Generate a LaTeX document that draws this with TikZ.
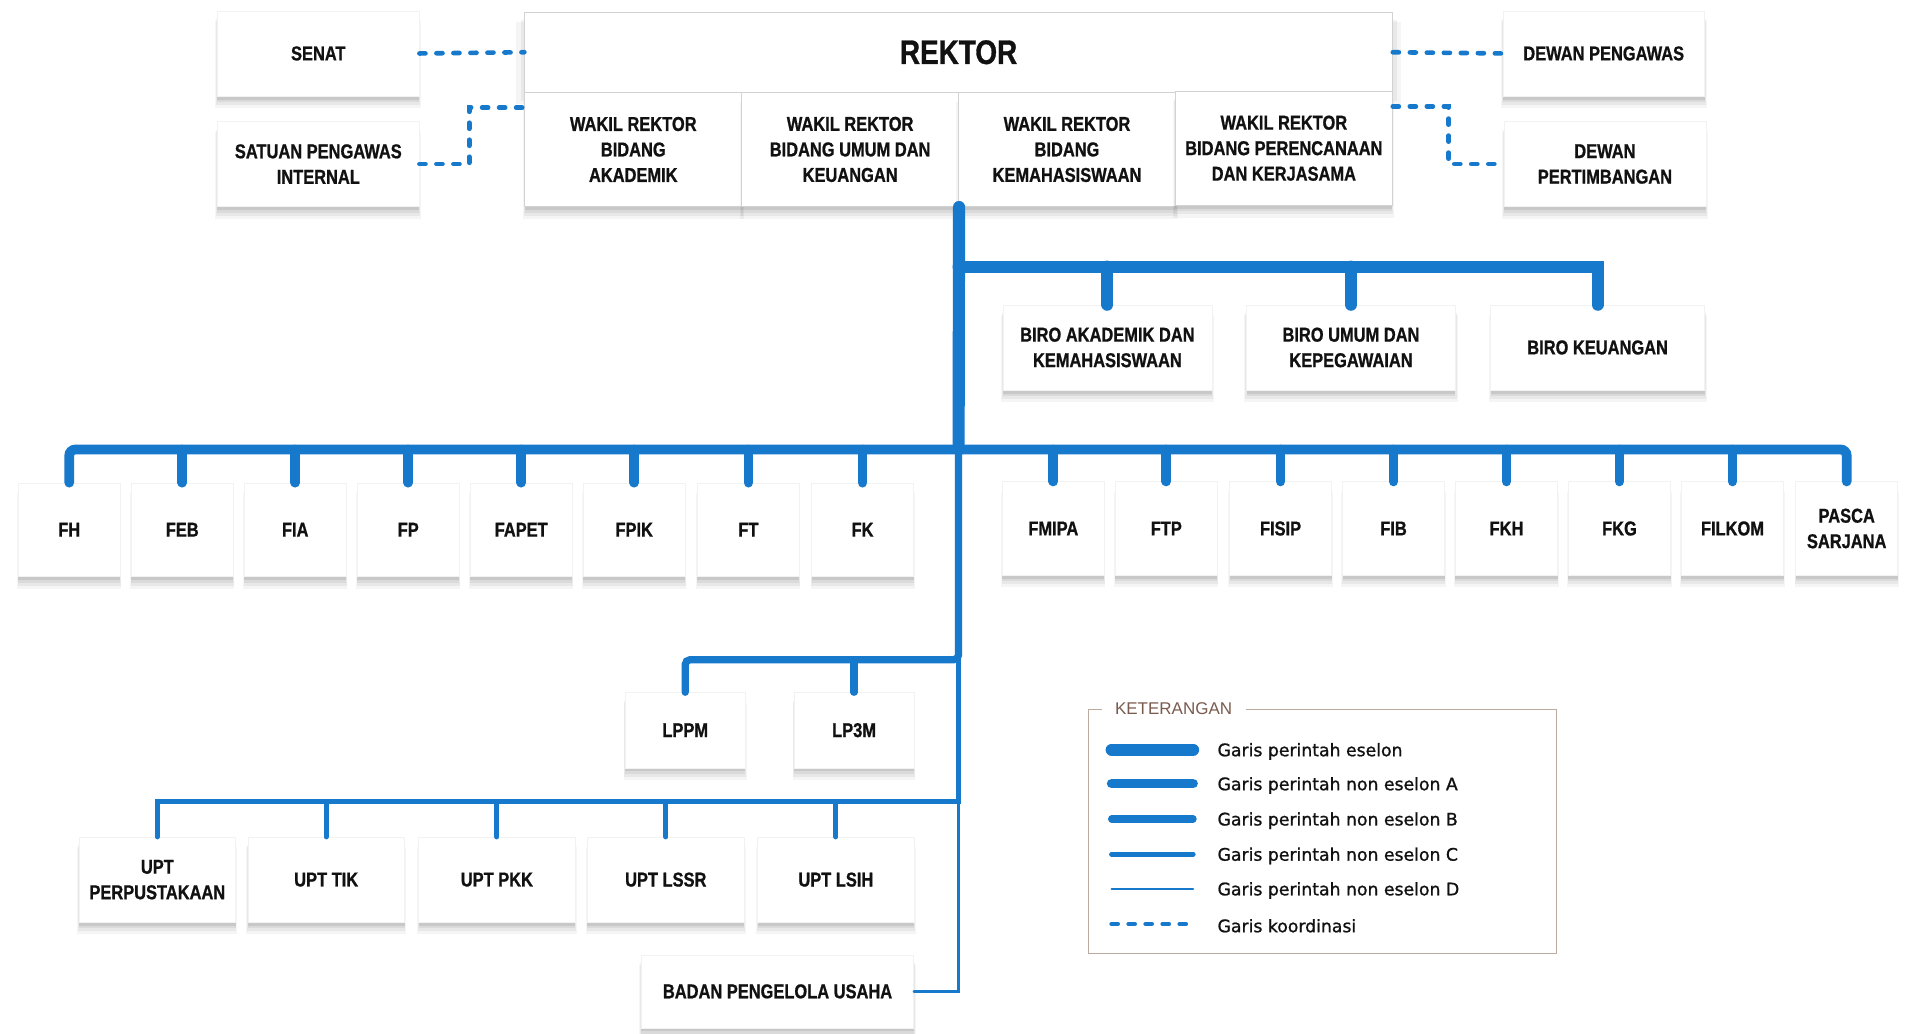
\documentclass[tikz,border=0pt]{standalone}
\usepackage{fontspec}
\usepackage{xcolor}
\usepackage{tikz}
\usetikzlibrary{shadows, positioning}

\newfontfamily\unitfont{Liberation Sans Bold}[FakeStretch=0.82, FakeBold=0.9]
\newfontfamily\notefont{DejaVu Sans}[FakeBold=1.1]
\newfontfamily\notetitlefont{Liberation Sans}

\definecolor{linkblue}{HTML}{1779CC}
\definecolor{unittext}{HTML}{111111}
\definecolor{notebrown}{HTML}{7B5B4E}
\definecolor{noteframe}{HTML}{BCA9A0}

\tikzset{
  unitbox/.style={
    draw=gray!10, fill=white, align=center, inner sep=2pt,
    text=unittext, font=\unitfont\fontsize{16.5}{21}\selectfont,
    drop shadow={shadow xshift=0pt, shadow yshift=-9pt, shadow scale=1.02, opacity=.04, fill=black},
    drop shadow={shadow xshift=0pt, shadow yshift=-7pt, shadow scale=1.01, opacity=.05, fill=black},
    drop shadow={shadow xshift=0pt, shadow yshift=-5pt, opacity=.06, fill=black},
    drop shadow={shadow xshift=0pt, shadow yshift=-3pt, opacity=.08, fill=black}
  },
  headbox/.style={
    unitbox, draw=gray!35, line width=0.8pt
  },
  wakilbox/.style={
    headbox, minimum width=178.5pt, minimum height=94pt
  },
  sidebox/.style={
    unitbox, minimum width=166pt, minimum height=70pt
  },
  birobox/.style={
    unitbox, minimum width=172pt, minimum height=70pt
  },
  fakbox/.style={
    unitbox, minimum width=84pt, minimum height=77pt
  },
  lpbox/.style={
    unitbox, minimum width=99pt, minimum height=62pt
  },
  uptbox/.style={
    unitbox, minimum width=129pt, minimum height=70pt
  },
  eselon/.style={draw=linkblue, line width=10pt, line cap=round},
  noneselonA/.style={draw=linkblue, line width=8pt, line cap=round},
  noneselonB/.style={draw=linkblue, line width=6pt, line cap=round},
  noneselonC/.style={draw=linkblue, line width=4.2pt, line cap=round},
  noneselonD/.style={draw=linkblue, line width=2pt, line cap=round},
  koordinasi/.style={
    draw=linkblue, line width=3.8pt, line cap=round,
    dash pattern=on 5pt off 9pt
  },
  notetitle/.style={
    fill=white, inner xsep=11pt, inner ysep=1pt, text=notebrown,
    font=\notetitlefont\fontsize{14}{16}\selectfont
  },
  notelabel/.style={
    anchor=west, inner sep=0pt, text=unittext,
    font=\notefont\fontsize{14.2}{16}\selectfont
  },
}

\begin{document}
\begin{tikzpicture}[x=1pt, y=-1pt]
  \fill[white] (0,0) rectangle (1568,851);
  \useasboundingbox (0,0) rectangle (1568,851);

  % Pimpinan
  \node[headbox, minimum width=714pt, minimum height=66pt,
    font=\unitfont\fontsize{28}{30}\selectfont] (rektor) at (789,43) {REKTOR};
  \node[wakilbox] (wr1) at (521.25,123) {WAKIL REKTOR\\BIDANG\\AKADEMIK};
  \node[wakilbox] (wr2) at (699.75,123) {WAKIL REKTOR\\BIDANG UMUM DAN\\KEUANGAN};
  \node[wakilbox] (wr3) at (878.25,123) {WAKIL REKTOR\\BIDANG\\KEMAHASISWAAN};
  \node[wakilbox] (wr4) at (1056.75,122) {WAKIL REKTOR\\BIDANG PERENCANAAN\\DAN KERJASAMA};

  % Organ pendamping
  \node[sidebox] (senat) at (262,44) {SENAT};
  \node[sidebox] (spi) at (262,135) {SATUAN PENGAWAS\\INTERNAL};
  \node[sidebox] (dpw) at (1320,44) {DEWAN PENGAWAS};
  \node[sidebox] (dpt) at (1321,135) {DEWAN\\PERTIMBANGAN};

  % Biro
  \node[birobox] (biroa) at (911.5,286) {BIRO AKADEMIK DAN\\KEMAHASISWAAN};
  \node[birobox] (birob) at (1112,286) {BIRO UMUM DAN\\KEPEGAWAIAN};
  \node[birobox, minimum width=176pt] (biroc) at (1315,286) {BIRO KEUANGAN};

  % Fakultas
  \node[fakbox] (fh) at (57,436) {FH};
  \node[fakbox] (feb) at (150,436) {FEB};
  \node[fakbox] (fia) at (243,436) {FIA};
  \node[fakbox] (fp) at (336,436) {FP};
  \node[fakbox] (fapet) at (429,436) {FAPET};
  \node[fakbox] (fpik) at (522,436) {FPIK};
  \node[fakbox] (ft) at (616,436) {FT};
  \node[fakbox] (fk) at (710,436) {FK};
  \node[fakbox] (fmipa) at (867,435) {FMIPA};
  \node[fakbox] (ftp) at (960,435) {FTP};
  \node[fakbox] (fisip) at (1054,435) {FISIP};
  \node[fakbox] (fib) at (1147,435) {FIB};
  \node[fakbox] (fkh) at (1240,435) {FKH};
  \node[fakbox] (fkg) at (1333,435) {FKG};
  \node[fakbox] (filkom) at (1426,435) {FILKOM};
  \node[fakbox] (pasca) at (1520,435) {PASCA\\SARJANA};

  % Lembaga
  \node[lpbox] (lppm) at (564,601) {LPPM};
  \node[lpbox] (lp3m) at (703,601) {LP3M};

  % UPT
  \node[uptbox] (uptlib) at (129.5,724) {UPT\\PERPUSTAKAAN};
  \node[uptbox] (upttik) at (268.5,724) {UPT TIK};
  \node[uptbox] (uptpkk) at (409,724) {UPT PKK};
  \node[uptbox] (uptlssr) at (548,724) {UPT LSSR};
  \node[uptbox] (uptlsih) at (688,724) {UPT LSIH};

  % Badan usaha
  \node[unitbox, minimum width=224pt, minimum height=60pt] (badan) at (640,816)
    {BADAN PENGELOLA USAHA};

  % Titik cabang
  \coordinate (jbiro) at (789,219.5);
  \coordinate (jfak) at (789,370);
  \coordinate (jlp) at (789,543);
  \coordinate (jupt) at (789,660);

  % Garis koordinasi
  \draw[koordinasi] (senat.east) -- (rektor.west);
  \draw[koordinasi] (spi.east) -- ++(41,0) |- ([yshift=-13pt]wr1.north west);
  \draw[koordinasi] (rektor.east) -- (dpw.west);
  \draw[koordinasi] ([yshift=-13pt]wr4.north east) -- ++(46,0) |- (dpt.west);

  % Garis perintah
  \draw[eselon] (wr2.south east) -- (jfak);
  \draw[eselon] (jbiro) -| (biroc.north);
  \foreach \b in {biroa,birob}
    \draw[eselon] (\b.north) -- (\b.north |- jbiro);

  \draw[noneselonA, rounded corners=5pt] (fh.north) |- (jfak) -| (pasca.north);
  \foreach \f in {feb,fia,fp,fapet,fpik,ft,fk,fmipa,ftp,fisip,fib,fkh,fkg,filkom}
    \draw[noneselonA] (\f.north) -- (\f.north |- jfak);

  \draw[noneselonB, rounded corners=4pt] (jfak) -- (jlp) -| (lppm.north);
  \draw[noneselonB] (lp3m.north) -- (lp3m.north |- jlp);

  \draw[noneselonC] (jlp) -- (jupt) -| (uptlib.north);
  \foreach \u in {upttik,uptpkk,uptlssr,uptlsih}
    \draw[noneselonC] (\u.north) -- (\u.north |- jupt);

  \draw[noneselonD] (jupt) |- (badan.east);

  % Keterangan
  \draw[noteframe, line width=1.2pt] (896,584) rectangle (1281,785);
  \node[notetitle] (ket) at (966,583) {KETERANGAN};
  \node[notelabel] (lg1) at (1002,618.5) {Garis perintah eselon};
  \node[notelabel] (lg2) at (1002,646.5) {Garis perintah non eselon A};
  \node[notelabel] (lg3) at (1002,675.5) {Garis perintah non eselon B};
  \node[notelabel] (lg4) at (1002,704.5) {Garis perintah non eselon C};
  \node[notelabel] (lg5) at (1002,733) {Garis perintah non eselon D};
  \node[notelabel] (lg6) at (1002,762) {Garis koordinasi};
  \draw[eselon] ([xshift=-87pt,yshift=1.5pt]lg1.west) -- ([xshift=-20pt,yshift=1.5pt]lg1.west);
  \draw[noneselonA] ([xshift=-87pt,yshift=1.5pt]lg2.west) -- ([xshift=-20pt,yshift=1.5pt]lg2.west);
  \draw[noneselonB] ([xshift=-87pt,yshift=1.5pt]lg3.west) -- ([xshift=-20pt,yshift=1.5pt]lg3.west);
  \draw[noneselonC] ([xshift=-87pt,yshift=1.5pt]lg4.west) -- ([xshift=-20pt,yshift=1.5pt]lg4.west);
  \draw[noneselonD] ([xshift=-87pt,yshift=1.5pt]lg5.west) -- ([xshift=-20pt,yshift=1.5pt]lg5.west);
  \draw[koordinasi] ([xshift=-87pt,yshift=1.5pt]lg6.west) -- ([xshift=-26pt,yshift=1.5pt]lg6.west);
\end{tikzpicture}
\end{document}
